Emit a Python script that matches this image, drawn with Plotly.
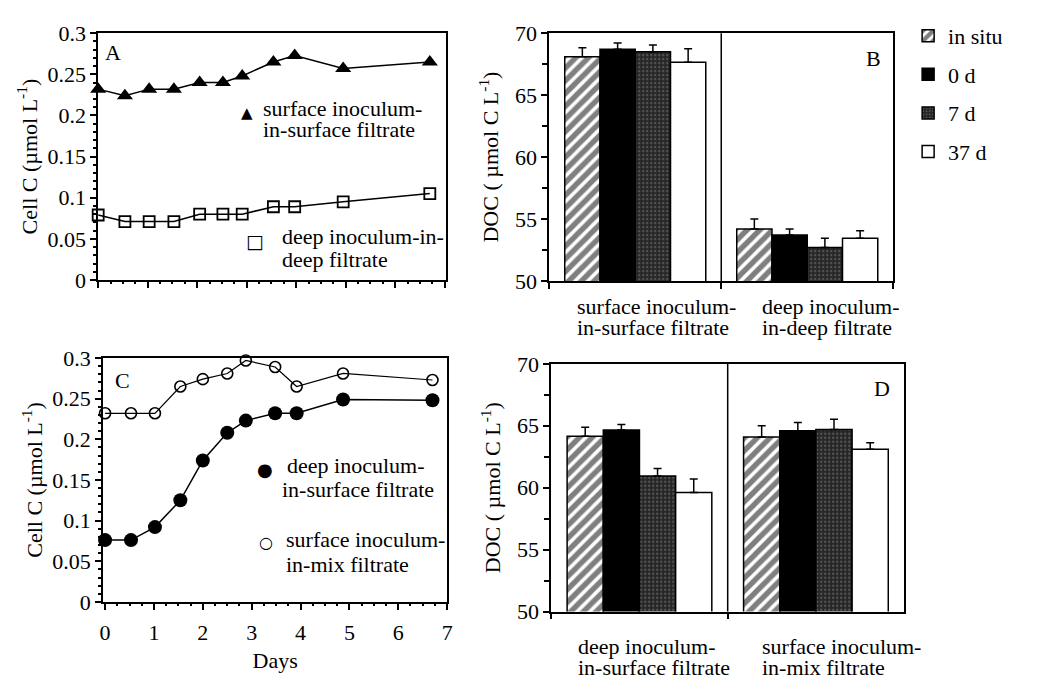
import plotly.graph_objects as go

W, H = 1042, 692
FONT = "Liberation Serif"
FS = 22


def X(p):
    return p / W


def Y(p):
    return 1 - p / H


# ---------------- data ----------------
# Panel A
days_A = [0, 0.54, 1.03, 1.53, 2.05, 2.52, 2.91, 3.54, 3.97, 4.95, 6.7]
surf_in_surf = [0.232, 0.224, 0.232, 0.232, 0.240, 0.240, 0.248, 0.265, 0.273, 0.257, 0.265]
deep_in_deep = [0.079, 0.071, 0.071, 0.071, 0.080, 0.080, 0.080, 0.089, 0.089, 0.095, 0.105]

# Panel C
days_C = [0, 0.53, 1.02, 1.54, 2.0, 2.5, 2.88, 3.48, 3.92, 4.87, 6.7]
deep_in_surf = [0.076, 0.076, 0.092, 0.125, 0.174, 0.208, 0.223, 0.232, 0.232, 0.249, 0.248]
surf_in_mix = [0.232, 0.232, 0.232, 0.265, 0.274, 0.281, 0.297, 0.289, 0.265, 0.281, 0.273]

# Panels B and D (DOC)
treatments = ["in situ", "0 d", "7 d", "37 d"]
groups_B = [["surface inoculum-", "in-surface filtrate"], ["deep inoculum-", "in-deep filtrate"]]
doc_B = {
    "in situ": [68.1, 54.2],
    "0 d": [68.7, 53.7],
    "7 d": [68.5, 52.7],
    "37 d": [67.65, 53.45],
}
err_B = {
    "in situ": [0.73, 0.8],
    "0 d": [0.5, 0.5],
    "7 d": [0.55, 0.75],
    "37 d": [1.1, 0.6],
}
groups_D = [["deep inoculum-", "in-surface filtrate"], ["surface inoculum-", "in-mix filtrate"]]
doc_D = {
    "in situ": [64.15, 64.1],
    "0 d": [64.65, 64.6],
    "7 d": [60.95, 64.7],
    "37 d": [59.6, 63.1],
}
err_D = {
    "in situ": [0.73, 0.9],
    "0 d": [0.44, 0.67],
    "7 d": [0.6, 0.83],
    "37 d": [1.1, 0.52],
}

# ---------------- styles ----------------
bar_style = {
    "in situ": dict(color="white", pattern=dict(shape="/", fgcolor="black", bgcolor="white", size=9, solidity=0.6)),
    "0 d": dict(color="black"),
    "7 d": dict(color="#2a2a2a", pattern=dict(shape=".", fgcolor="#8a8a8a", bgcolor="#262626", size=4, solidity=0.25)),
    "37 d": dict(color="white"),
}

fig = go.Figure()

# Panel A
fig.add_trace(go.Scatter(x=days_A, y=surf_in_surf, mode="lines+markers", xaxis="x", yaxis="y",
                         line=dict(color="black", width=1.5), cliponaxis=False,
                         marker=dict(symbol="triangle-up", size=14, color="black"),
                         showlegend=False))
fig.add_trace(go.Scatter(x=days_A, y=deep_in_deep, mode="lines+markers", xaxis="x", yaxis="y",
                         line=dict(color="black", width=1.5), cliponaxis=False,
                         marker=dict(symbol="square-open", size=11, color="black", line=dict(width=1.8)),
                         showlegend=False))

# Panel C
fig.add_trace(go.Scatter(x=days_C, y=deep_in_surf, mode="lines+markers", xaxis="x3", yaxis="y3",
                         line=dict(color="black", width=1.5), cliponaxis=False,
                         marker=dict(symbol="circle", size=14, color="black"),
                         showlegend=False))
fig.add_trace(go.Scatter(x=days_C, y=surf_in_mix, mode="lines+markers", xaxis="x3", yaxis="y3",
                         line=dict(color="black", width=1.2), cliponaxis=False,
                         marker=dict(symbol="circle-open", size=11, color="black", line=dict(width=1.6)),
                         showlegend=False))

# Panels B and D
catB = ["<br>".join(g) for g in groups_B]
catD = ["<br>".join(g) for g in groups_D]
for t in treatments:
    m = dict(line=dict(color="black", width=1.5), **bar_style[t])
    fig.add_trace(go.Bar(x=catB, y=doc_B[t], name=t, xaxis="x2", yaxis="y2", marker=m,
                         legendgroup=t, showlegend=True,
                         error_y=dict(type="data", symmetric=False, array=err_B[t], arrayminus=[0, 0],
                                      color="black", thickness=1.5, width=4)))
    fig.add_trace(go.Bar(x=catD, y=doc_D[t], name=t, xaxis="x4", yaxis="y4", marker=m,
                         legendgroup=t, showlegend=False,
                         error_y=dict(type="data", symmetric=False, array=err_D[t], arrayminus=[0, 0],
                                      color="black", thickness=1.5, width=4)))

axis_common = dict(showline=True, linecolor="black", linewidth=1.8, mirror=True,
                   ticks="outside", ticklen=6, tickwidth=1.8, tickcolor="black",
                   showgrid=False, zeroline=False,
                   tickfont=dict(family=FONT, size=FS, color="black"))
title_font = dict(family=FONT, size=FS, color="black")

cell_title = "Cell C (µmol L<sup>-1</sup>)"
doc_title = "DOC ( µmol C L<sup>-1</sup>)"

fig.update_layout(
    width=W, height=H, margin=dict(l=0, r=0, t=0, b=0),
    paper_bgcolor="white", plot_bgcolor="white",
    font=dict(family=FONT, size=FS, color="black"),
    barmode="group", bargap=0.18, bargroupgap=0,
    xaxis=dict(domain=[X(95), X(446)], anchor="y", range=[0, 7.03], dtick=1, showticklabels=False,
               minor=dict(dtick=0.25, ticklen=2, ticks="outside", tickcolor="black"), **axis_common),
    yaxis=dict(domain=[Y(278), Y(22)], anchor="x", range=[0, 0.3], dtick=0.05,
               minor=dict(dtick=0.01, ticklen=3, ticks="outside", tickcolor="black"),
               title=dict(text=cell_title, font=title_font, standoff=4), **axis_common),
    xaxis2=dict(domain=[X(550), X(897)], anchor="y2", tickson="boundaries", showticklabels=False,
                **axis_common),
    yaxis2=dict(domain=[Y(279), Y(22)], anchor="x2", range=[50, 70], dtick=5,
                minor=dict(dtick=2.5, ticklen=5, ticks="outside", tickcolor="black"),
                title=dict(text=doc_title, font=title_font, standoff=10), **axis_common),
    xaxis3=dict(domain=[X(100), X(447)], anchor="y3", range=[-0.04, 7.0], dtick=1,
                ticklabelstandoff=4,
                minor=dict(dtick=0.25, ticklen=2, ticks="outside", tickcolor="black"),
                title=dict(text="Days", font=title_font, standoff=8), **axis_common),
    yaxis3=dict(domain=[Y(612), Y(359)], anchor="x3", range=[0, 0.3], dtick=0.05,
                minor=dict(dtick=0.01, ticklen=3, ticks="outside", tickcolor="black"),
                title=dict(text=cell_title, font=title_font, standoff=4), **axis_common),
    xaxis4=dict(domain=[X(552), X(908)], anchor="y4", tickson="boundaries", showticklabels=False,
                **axis_common),
    yaxis4=dict(domain=[Y(622), Y(365)], anchor="x4", range=[50, 70], dtick=5,
                minor=dict(dtick=2.5, ticklen=5, ticks="outside", tickcolor="black"),
                title=dict(text=doc_title, font=title_font, standoff=10), **axis_common),
    legend=dict(x=X(912), y=Y(3), xanchor="left", yanchor="top", font=dict(family=FONT, size=FS),
                tracegroupgap=7, bgcolor="rgba(0,0,0,0)"),
)

# dividers between bar groups
for xa, ya in (("x2", "y2"), ("x4", "y4")):
    fig.add_shape(type="line", xref=xa, yref=ya + " domain", x0=0.5, x1=0.5, y0=0, y1=1,
                  line=dict(color="black", width=1.5))

ann = []


def txt(text, x, y, xanchor="left", size=FS, family=FONT):
    ann.append(dict(text=text, x=X(x), y=Y(y), xref="paper", yref="paper", xanchor=xanchor,
                    yanchor="middle", showarrow=False, font=dict(family=family, size=size, color="black")))


# panel letters
txt("A", 110, 42, "center")
txt("B", 877, 48, "center")
txt("C", 120, 382, "center")
txt("D", 886, 391, "center")

# key texts panel A
txt("▲", 245, 105, "center", 15, "DejaVu Sans")
txt("surface inoculum-", 259, 100)
txt("in-surface filtrate", 259, 122)
txt("□", 253, 238, "center", 19, "DejaVu Sans")
txt("deep inoculum-in-", 278, 233)
txt("deep filtrate", 278, 257)

# key texts panel C
txt("●", 263, 475, "center", 18, "DejaVu Sans")
txt("deep inoculum-", 283, 470)
txt("in-surface filtrate", 278, 495)
txt("○", 264, 550, "center", 16, "DejaVu Sans")
txt("surface inoculum-", 282, 547)
txt("in-mix filtrate", 282, 573)

# category labels
for (l1, l2), xl in zip(groups_B, (576, 763)):
    txt(l1, xl, 306)
    txt(l2, xl, 327)
for (l1, l2), xl in zip(groups_D, (577, 763)):
    txt(l1, xl, 658)
    txt(l2, xl, 680)

fig.update_layout(annotations=ann)

fig.write_html("out.html")
